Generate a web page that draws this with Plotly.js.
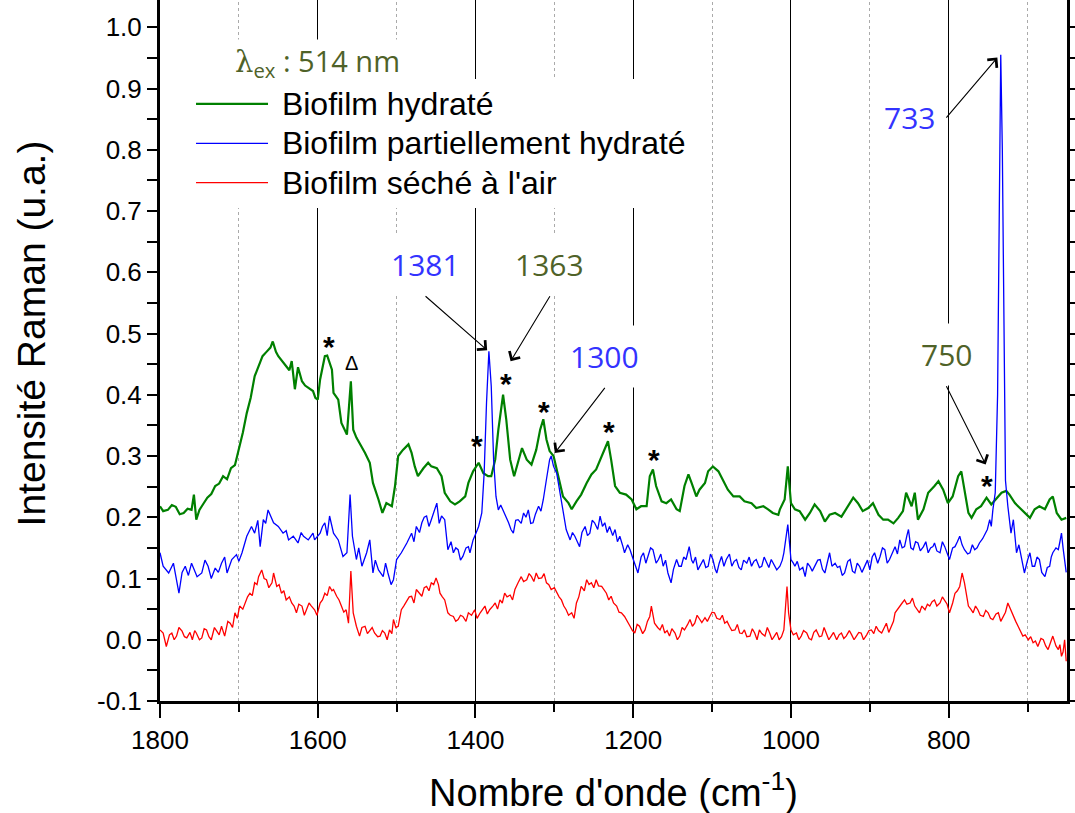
<!DOCTYPE html>
<html><head><meta charset="utf-8">
<script src="https://cdn.plot.ly/plotly-3.0.1.min.js"></script>
<style>html,body{margin:0;padding:0;background:#fff;overflow:hidden}
#chart{position:absolute;left:0;top:-34px;width:1075px;height:848px}</style>
</head><body><div id="chart"></div>
<script>
// ---- data ----
const seriesNames = ["Biofilm hydraté", "Biofilm partiellement hydraté", "Biofilm séché à l'air"];

const wnHydrate = [1800,1796,1790,1785,1780,1775,1770,1765,1760,1757,1754,1750,1745,1740,1735,1730,1725,1720,1715,1710,1705,1700,1695,1690,1685,1680,1675,1670,1665,1660,1657,1653,1650,1645,1640,1636,1633,1629,1625,1620,1616,1610,1606,1603,1600,1597,1591,1588,1582,1580,1574,1570,1563,1558,1555,1551,1547,1540,1534,1530,1523,1518,1513,1506,1502,1498,1492,1485,1481,1477,1473,1466,1460,1456,1449,1443,1439,1432,1426,1420,1413,1409,1403,1396,1390,1384,1380,1375,1371,1365,1361,1356,1351,1346,1341,1335,1329,1323,1318,1314,1310,1306,1301,1295,1289,1282,1278,1272,1266,1259,1253,1247,1240,1236,1232,1228,1223,1217,1209,1202,1196,1190,1183,1179,1175,1171,1164,1158,1152,1145,1141,1135,1130,1126,1120,1116,1109,1105,1099,1092,1086,1080,1073,1065,1059,1050,1044,1035,1029,1023,1016,1014,1008,1004,1000,995,989,982,976,970,963,957,951,944,936,930,921,915,909,902,896,889,883,877,870,864,858,854,847,843,839,832,826,818,813,807,801,795,788,784,780,775,771,765,759,752,746,740,733,727,723,716,710,704,697,691,685,678,672,668,663,657,651];
const hydrate = [.218,.210,.212,.220,.217,.205,.207,.214,.212,.237,.196,.212,.222,.232,.238,.251,.255,.267,.262,.280,.285,.310,.338,.370,.395,.430,.448,.463,.470,.477,.487,.470,.463,.455,.447,.440,.455,.409,.445,.422,.415,.410,.406,.395,.392,.425,.463,.464,.441,.403,.392,.354,.335,.422,.343,.330,.321,.305,.289,.256,.229,.207,.223,.218,.251,.300,.310,.319,.305,.283,.267,.280,.289,.283,.280,.267,.240,.226,.221,.226,.234,.256,.275,.289,.272,.267,.267,.294,.343,.400,.360,.294,.267,.289,.313,.294,.286,.310,.343,.360,.327,.308,.300,.267,.234,.223,.213,.226,.237,.256,.270,.278,.300,.310,.324,.294,.251,.240,.237,.229,.213,.218,.218,.267,.278,.251,.226,.223,.229,.213,.210,.251,.270,.256,.234,.245,.256,.275,.283,.275,.261,.245,.234,.234,.226,.223,.215,.218,.213,.207,.204,.213,.229,.283,.223,.213,.210,.196,.207,.221,.210,.193,.204,.207,.201,.213,.232,.223,.210,.215,.223,.204,.196,.196,.190,.199,.210,.240,.218,.240,.196,.213,.240,.251,.259,.245,.223,.234,.267,.275,.245,.207,.199,.213,.218,.232,.221,.229,.240,.243,.237,.223,.215,.207,.199,.213,.218,.213,.229,.234,.207,.196,.199];

const wnPartiel = [1800,1796,1789,1783,1776,1772,1768,1764,1760,1753,1747,1743,1739,1735,1730,1726,1722,1718,1715,1709,1703,1700,1696,1690,1684,1680,1676,1673,1669,1666,1663,1659,1656,1650,1644,1640,1637,1631,1625,1621,1618,1612,1606,1604,1597,1594,1591,1588,1585,1580,1574,1568,1563,1559,1556,1551,1548,1544,1538,1534,1530,1527,1523,1517,1514,1511,1507,1504,1500,1494,1490,1487,1481,1478,1475,1471,1468,1465,1462,1459,1456,1452,1449,1446,1443,1439,1435,1431,1428,1425,1422,1419,1416,1412,1409,1407,1403,1399,1396,1392,1389,1386,1383,1380,1377,1374,1371,1368,1365,1361,1358,1355,1352,1349,1346,1342,1339,1336,1333,1330,1327,1324,1320,1317,1314,1310,1306,1304,1301,1297,1293,1289,1285,1280,1277,1274,1271,1268,1265,1261,1258,1255,1252,1249,1245,1242,1239,1236,1233,1230,1226,1223,1220,1217,1213,1211,1207,1204,1201,1198,1194,1190,1187,1184,1181,1178,1175,1171,1168,1165,1162,1159,1156,1152,1149,1145,1142,1139,1136,1133,1129,1126,1124,1121,1118,1114,1111,1108,1105,1102,1099,1096,1094,1091,1088,1085,1082,1078,1075,1072,1069,1066,1063,1060,1056,1053,1050,1047,1044,1040,1037,1034,1031,1028,1025,1021,1018,1014,1011,1009,1006,1004,1002,1000,997,995,992,989,985,982,979,976,973,970,966,963,960,957,954,951,948,944,941,938,935,932,928,925,922,919,916,913,910,906,903,900,897,894,890,887,884,881,878,875,871,868,865,862,859,856,853,851,848,845,842,839,836,832,829,826,823,820,818,815,811,808,805,802,799,795,792,789,786,783,780,776,773,770,767,764,761,757,754,751,748,746,744,741,738,736,734,732,730,728,725,721,718,716,714,711,708,706,704,700,697,694,691,688,685,682,678,675,672,670,668,664,661,659,657,655,653,651];
const partiel = [.142,.120,.109,.125,.076,.110,.120,.105,.125,.103,.109,.130,.120,.100,.117,.110,.125,.135,.109,.131,.139,.128,.142,.169,.185,.174,.195,.152,.196,.190,.212,.200,.191,.185,.174,.178,.163,.169,.158,.175,.169,.163,.174,.163,.174,.185,.191,.170,.202,.174,.163,.136,.142,.237,.169,.131,.150,.120,.142,.163,.109,.130,.114,.103,.125,.109,.090,.098,.131,.142,.150,.158,.174,.160,.185,.175,.191,.200,.202,.185,.196,.210,.223,.190,.202,.196,.147,.160,.142,.150,.147,.130,.136,.150,.152,.142,.163,.175,.185,.207,.272,.387,.471,.414,.294,.234,.212,.220,.212,.200,.191,.180,.174,.195,.196,.190,.207,.200,.212,.190,.191,.205,.218,.210,.229,.262,.294,.300,.283,.272,.240,.207,.180,.163,.175,.169,.160,.152,.175,.185,.170,.174,.195,.191,.180,.202,.185,.191,.175,.185,.170,.180,.160,.169,.152,.142,.155,.147,.135,.125,.109,.135,.142,.125,.136,.150,.147,.125,.131,.140,.120,.130,.109,.093,.115,.131,.120,.120,.135,.131,.152,.130,.125,.135,.114,.125,.131,.118,.120,.140,.131,.115,.109,.125,.136,.120,.131,.140,.120,.128,.131,.118,.114,.130,.125,.135,.120,.128,.131,.118,.120,.135,.125,.118,.131,.120,.114,.120,.130,.142,.170,.188,.160,.131,.125,.120,.128,.114,.118,.103,.125,.120,.112,.120,.130,.131,.115,.109,.125,.142,.120,.125,.118,.120,.105,.109,.128,.131,.112,.109,.125,.120,.110,.120,.130,.114,.135,.142,.125,.136,.150,.147,.125,.131,.145,.152,.140,.163,.150,.152,.170,.180,.150,.147,.160,.158,.145,.152,.160,.142,.150,.152,.158,.145,.142,.160,.152,.140,.131,.150,.152,.160,.169,.155,.147,.140,.142,.155,.147,.150,.158,.165,.174,.180,.196,.185,.212,.240,.400,.700,.955,.800,.450,.260,.218,.174,.196,.170,.142,.155,.136,.125,.109,.130,.142,.120,.120,.135,.131,.110,.103,.118,.120,.135,.142,.150,.147,.160,.174,.150,.131,.110];

const wnSeche = [1800,1796,1792,1788,1785,1782,1779,1776,1772,1769,1766,1762,1759,1756,1754,1750,1747,1744,1741,1738,1735,1731,1728,1725,1722,1718,1714,1711,1708,1705,1702,1699,1695,1692,1689,1686,1683,1680,1677,1675,1671,1668,1665,1662,1658,1656,1652,1649,1646,1643,1640,1636,1633,1630,1627,1624,1620,1617,1614,1611,1608,1604,1601,1597,1594,1591,1588,1585,1582,1580,1576,1573,1570,1567,1564,1561,1558,1555,1551,1547,1544,1540,1537,1534,1531,1528,1524,1521,1518,1515,1512,1509,1506,1504,1501,1498,1494,1491,1487,1484,1481,1478,1475,1471,1468,1465,1462,1459,1456,1453,1450,1447,1445,1442,1439,1435,1432,1428,1425,1422,1419,1416,1412,1409,1405,1401,1398,1394,1391,1388,1385,1382,1378,1375,1372,1369,1366,1363,1360,1356,1353,1350,1346,1342,1339,1335,1332,1329,1326,1323,1320,1316,1313,1310,1307,1304,1300,1297,1294,1291,1288,1285,1282,1278,1275,1272,1269,1266,1262,1259,1256,1253,1250,1247,1244,1240,1237,1234,1231,1228,1225,1221,1218,1215,1211,1208,1204,1201,1198,1195,1192,1188,1185,1182,1179,1177,1175,1173,1169,1166,1163,1160,1157,1154,1151,1147,1144,1141,1138,1135,1131,1128,1125,1122,1119,1116,1113,1109,1106,1103,1100,1097,1094,1090,1087,1084,1081,1078,1075,1071,1068,1065,1062,1059,1056,1052,1049,1046,1043,1040,1037,1033,1030,1027,1024,1021,1018,1015,1012,1009,1007,1005,1003,1000,997,993,990,987,984,980,977,974,971,968,964,961,958,955,952,949,946,942,939,936,933,930,926,923,920,917,914,911,908,904,901,898,895,892,889,885,882,879,876,873,870,868,865,862,859,856,853,849,846,843,840,837,834,830,827,824,821,818,815,811,808,805,802,799,795,792,789,786,783,780,778,775,772,769,766,763,760,756,753,750,747,744,740,737,734,731,728,725,722,718,715,712,709,706,703,699,696,693,690,687,683,680,677,674,671,668,664,661,659,657,655,653,651];
const seche = [.016,.011,-.011,.008,.011,.000,.006,.020,.014,.005,.003,.012,.000,.015,.011,.000,.003,.018,.016,.005,.000,.020,.014,.008,.022,.006,.030,.027,.020,.044,.035,.055,.050,.060,.070,.076,.072,.093,.090,.103,.114,.100,.098,.085,.093,.109,.087,.090,.076,.080,.065,.070,.060,.055,.044,.058,.055,.040,.049,.060,.055,.049,.040,.060,.065,.076,.072,.087,.080,.082,.071,.065,.055,.045,.049,.027,.112,.044,.022,.006,.020,.022,.010,.016,.020,.011,.005,.006,.015,.011,.000,.016,.010,.033,.020,.022,.049,.055,.065,.070,.071,.060,.082,.075,.071,.085,.087,.080,.093,.090,.101,.090,.076,.070,.065,.044,.040,.038,.030,.033,.040,.038,.030,.044,.040,.049,.035,.044,.050,.055,.042,.049,.055,.060,.050,.065,.060,.076,.070,.073,.065,.082,.093,.103,.095,.098,.108,.103,.095,.109,.100,.101,.108,.093,.090,.082,.085,.076,.070,.065,.055,.049,.040,.044,.035,.060,.070,.087,.080,.098,.090,.093,.085,.098,.088,.087,.082,.076,.065,.071,.060,.055,.045,.044,.038,.030,.022,.015,.011,.025,.022,.010,.016,.030,.038,.055,.040,.027,.020,.016,.025,.011,.015,.006,.018,.011,.000,.006,.020,.016,.025,.033,.022,.027,.040,.033,.028,.036,.030,.038,.045,.044,.035,.033,.040,.027,.030,.022,.015,.016,.025,.011,.010,.016,.005,.006,.018,.011,.000,.016,.010,.006,.020,.011,.000,.006,.012,.000,.005,.016,.050,.087,.044,.016,.008,.011,.000,.006,.015,.011,.002,.000,.012,.016,.005,.006,.020,.008,.000,.006,.012,.000,.008,.011,.002,.006,.015,.008,.000,.006,.012,.011,.000,.008,.015,.016,.010,.022,.015,.011,.020,.027,.012,.022,.030,.044,.050,.055,.060,.065,.058,.060,.068,.055,.050,.044,.055,.049,.058,.055,.062,.065,.055,.060,.070,.065,.058,.044,.060,.076,.080,.087,.109,.093,.075,.055,.050,.044,.055,.049,.040,.038,.048,.044,.035,.033,.042,.044,.030,.038,.045,.060,.050,.038,.030,.022,.015,.006,.008,.000,.005,-.005,-.002,-.011,.002,.000,-.010,-.016,-.005,.006,-.010,-.016,-.008,-.027,-.020,.000,-.035];

// y tick labels (hyphen minus as in the reference)
const yTickVals = [-0.1, 0, 0.1, 0.2, 0.3, 0.4, 0.5, 0.6, 0.7, 0.8, 0.9, 1.0];
const yTickText = ["-0.1", "0.0", "0.1", "0.2", "0.3", "0.4", "0.5", "0.6", "0.7", "0.8", "0.9", "1.0"];

// peak labels: [wavenumber tip, intensity tip, label, colour, arrow dx, arrow dy, xanchor, yanchor]
const peakLabels = [
  [1385.2, 0.4727, "1381", "#3333ff", -61.6, -54, "center", "bottom"],
  [1355.5, 0.4547, "1363", "#4f6228", 39.3, -65, "center", "bottom"],
  [1299.4, 0.305,  "1300", "#3333ff", 50, -65, "center", "bottom"],
  [738.3,  0.9505, "733",  "#3333ff", -51, 60, "right", "middle"],
  [753.1,  0.286,  "750",  "#4f6228", -39.3, -78.3, "center", "bottom"]
];
// band markers: [wavenumber, intensity, symbol]
const bandMarks = [
  [1585.8, 0.490, "*"], [1557, 0.452, "Δ"], [1398.6, 0.328, "*"], [1361.9, 0.430, "*"],
  [1312.9, 0.384, "*"], [1230.9, 0.352, "*"], [1173.5, 0.305, "*"], [750.9, 0.264, "*"]
];

const FONT = "Liberation Sans, Arial, sans-serif";
const NUMFONT = "Open Sans, sans-serif";
const big = s => '<span style="font-size:32px">\u00a0' + s + '</span>';

const traces = [
  {x: wnHydrate, y: hydrate, name: big(seriesNames[0]), type: "scatter", mode: "lines",
   line: {color: "#008000", width: 2.2}, legendgroup: "a"},
  {x: wnPartiel, y: partiel, name: big(seriesNames[1]), type: "scatter", mode: "lines",
   line: {color: "#0000ff", width: 1.3}, legendgroup: "b"},
  {x: wnSeche, y: seche, name: big(seriesNames[2]), type: "scatter", mode: "lines",
   line: {color: "#ff0000", width: 1.3}, legendgroup: "c"}
];

const annotations = [];
peakLabels.forEach(p => {
  annotations.push({x: p[0], y: p[1], xref: "x", yref: "y", text: p[2], showarrow: true,
    ax: p[4], ay: p[5], xanchor: p[6], yanchor: p[7], arrowhead: 4, arrowsize: 2.2, arrowwidth: 1.1,
    arrowcolor: "#000", standoff: 0, bgcolor: "#fff", borderpad: 10,
    font: {family: NUMFONT, size: 30, color: p[3]}});
});
bandMarks.forEach(b => {
  const star = b[2] === "*";
  annotations.push({x: b[0], y: b[1], xref: "x", yref: "y", text: star ? "<b>*</b>" : b[2],
    showarrow: false, xanchor: "center", yanchor: "middle", yshift: star ? -7 : 0,
    font: {family: FONT, size: star ? 30 : 20, color: "#000"}});
});
annotations.push({x: 0.174, y: 0.869, xref: "paper", yref: "paper", showarrow: false,
  xanchor: "center", yanchor: "middle",
  text: '<span style="font-family:DejaVu Serif">λ</span><sub>ex</sub> : 514 nm',
  font: {family: NUMFONT, size: 29, color: "#4f6228"}, bgcolor: "#fff"});

const layout = {
  width: 1075, height: 848,
  margin: {l: 160, r: 8, t: 0, b: 113},
  paper_bgcolor: "#fff", plot_bgcolor: "#fff",
  showlegend: true,
  legend: {x: 0.0342, y: 0.846, xanchor: "left", yanchor: "top", bgcolor: "#fff",
    font: {family: FONT, size: 28, color: "#000"}, itemwidth: 72, tracegroupgap: 0,
    traceorder: "normal"},
  xaxis: {range: [1800, 650], dtick: 200, tick0: 0, ticks: "outside", ticklen: 14, tickwidth: 2,
    tickcolor: "#000", showline: true, linewidth: 3, linecolor: "#000", mirror: false,
    showgrid: true, gridcolor: "#000", gridwidth: 1, zeroline: false,
    tickfont: {family: FONT, size: 26, color: "#000"},
    minor: {dtick: 100, ticks: "outside", ticklen: 8, tickwidth: 2, tickcolor: "#000",
      showgrid: true, gridcolor: "#aaa", griddash: "dot", gridwidth: 1},
    title: {text: "Nombre d'onde (cm<sup>-1</sup>)", font: {family: FONT, size: 38, color: "#000"}, standoff: 28}},
  yaxis: {range: [-0.1, 1.1], tickvals: yTickVals, ticktext: yTickText, ticks: "outside",
    ticklen: 10, tickwidth: 2, tickcolor: "#000", showline: true, linewidth: 3, linecolor: "#000",
    mirror: "allticks", showgrid: false, zeroline: false,
    tickfont: {family: FONT, size: 26, color: "#000"},
    minor: {dtick: 0.05, tick0: 0, ticks: "outside", ticklen: 10, tickwidth: 2, tickcolor: "#000"},
    title: {text: "Intensité Raman (u.a.)", font: {family: FONT, size: 39, color: "#000"}, standoff: 40}},
  annotations: annotations
};

Plotly.newPlot("chart", traces, layout, {displayModeBar: false, staticPlot: true});
</script></body></html>
